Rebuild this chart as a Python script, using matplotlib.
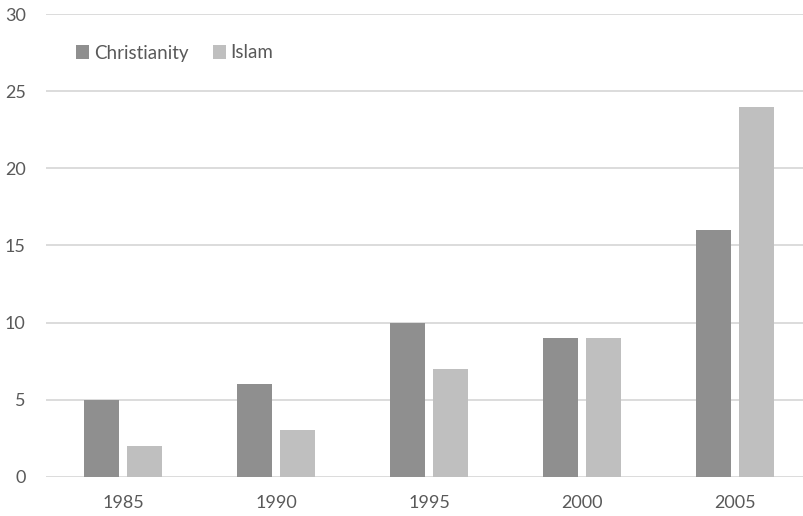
import numpy as np
import matplotlib.pyplot as plt

years = ['1985', '1990', '1995', '2000', '2005']
christianity = [5, 6, 10, 9, 16]
islam = [2, 3, 7, 9, 24]
yticks = [0, 5, 10, 15, 20, 25, 30]

text_color = '#595959'
grid_color = '#d9d9d9'
dark_gray = '#8f8f8f'
light_gray = '#bfbfbf'

plt.rcParams['font.family'] = ['Lato', 'DejaVu Sans']

fig = plt.figure(figsize=(8.04, 5.16), dpi=100)
ax = fig.add_axes([46.5 / 804, 39.5 / 516, 765 / 804, 462 / 516])

x = np.arange(len(years))
width = 0.23
offset = 0.143
ax.bar(x - offset, christianity, width, color=dark_gray, label='Christianity', zorder=3)
ax.bar(x + offset, islam, width, color=light_gray, label='Islam', zorder=3)

ax.set_xlim(-0.5, 4.5)
ax.set_ylim(0, 30)
ax.set_yticks(yticks)
ax.set_xticks(x)
ax.set_xticklabels(years)
ax.yaxis.grid(True, color=grid_color, linewidth=1.3, zorder=0)
ax.set_axisbelow(True)
for s in ax.spines.values():
    s.set_visible(False)
ax.tick_params(axis='both', length=0, labelsize=13, colors=text_color)
ax.tick_params(axis='y', pad=15)
ax.tick_params(axis='x', pad=13)

leg = ax.legend(loc='center left', bbox_to_anchor=(76 / 804, 1 - 53 / 516),
                bbox_transform=fig.transFigure, ncol=2, frameon=False,
                fontsize=13.5, handlelength=0.7, handleheight=0.7,
                handletextpad=0.25, columnspacing=1.3, borderpad=0, borderaxespad=0)
for t in leg.get_texts():
    t.set_color(text_color)

fig.savefig('out.png', dpi=100)
